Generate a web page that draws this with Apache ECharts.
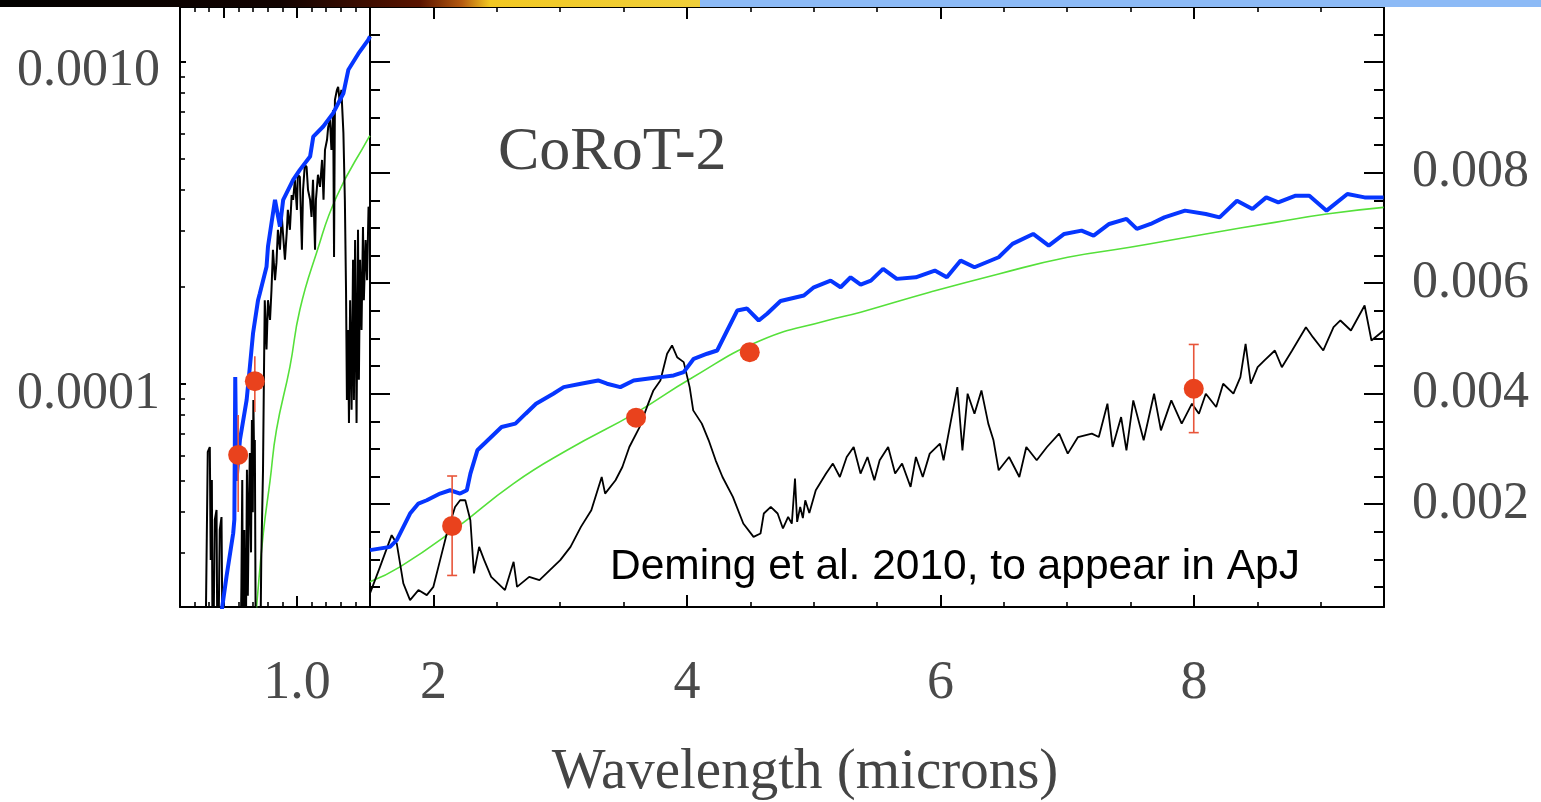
<!DOCTYPE html>
<html>
<head>
<meta charset="utf-8">
<title>CoRoT-2</title>
<script src="https://cdn.jsdelivr.net/npm/echarts@6/dist/echarts.min.js"></script>
<style>
  html, body { margin: 0; padding: 0; background: #fff; }
  #main { width: 1541px; height: 802px; }
</style>
</head>
<body>
<div id="main"></div>
<script>
// ---- values (wavelength in microns) ----

// left panel: optical, log scale
var optBlack = [[0.685,1e-5],[0.695,6.15e-5],[0.702,6.37e-5],[0.705,2.84e-5],[0.709,5.03e-5],[0.712,1e-5],[0.719,3.78e-5],[0.725,4.06e-5],[0.729,1e-5],[0.736,3.52e-5],[0.742,3.86e-5],[0.747,1e-5],
  [0.805,1e-5],[0.810,2.34e-5],[0.813,5.03e-5],[0.816,1e-5],[0.820,3.52e-5],[0.824,1e-5],[0.829,5.41e-5],[0.832,2.2e-5],[0.836,4.36e-5],[0.839,6.10e-5],[0.843,3.0e-5],[0.846,7.73e-5],[0.849,4.0e-5],[0.851,8.92e-5],[0.854,5.5e-5],[0.856,6.70e-5],[0.860,1e-5],
  [0.873,1e-5],[0.878,2.84e-5],[0.884,5.41e-5],[0.887,1.03e-4],[0.890,1.82e-4],[0.896,1.28e-4],[0.901,1.82e-4],[0.908,1.58e-4],[0.913,1.96e-4],[0.918,2.61e-4],[0.925,2.10e-4],[0.930,2.38e-4],[0.935,3.01e-4],[0.942,2.61e-4],[0.948,3.32e-4],[0.953,3.30e-4],[0.959,2.43e-4],[0.965,2.94e-4],[0.969,3.47e-4],[0.976,3.01e-4],[0.982,3.86e-4],[0.987,3.73e-4],[0.993,4.30e-4],[1.000,3.47e-4],[1.003,4.46e-4],[1.010,4.39e-4],[1.017,2.61e-4],[1.021,4.00e-4],[1.027,4.79e-4],[1.033,4.72e-4],[1.038,4.00e-4],[1.045,3.73e-4],[1.050,3.30e-4],[1.055,4.30e-4],[1.062,2.61e-4],[1.065,3.73e-4],[1.072,4.46e-4],[1.079,4.09e-4],[1.086,4.96e-4],[1.091,3.73e-4],[1.096,5.33e-4],[1.103,5.73e-4],[1.107,6.28e-4],[1.113,6.61e-4],[1.118,5.33e-4],[1.124,7.09e-4],[1.127,2.48e-4],[1.130,7.62e-4],[1.137,8.19e-4],[1.141,8.36e-4],[1.147,7.46e-4],[1.152,8.19e-4],[1.159,6.02e-4],[1.164,3.73e-4],[1.168,1.96e-4],[1.171,8.92e-5],[1.175,1.47e-4],[1.178,7.57e-5],[1.182,1.82e-4],[1.187,8.31e-5],[1.192,2.43e-4],[1.195,8.92e-5],[1.199,2.80e-4],[1.204,7.57e-5],[1.209,3.01e-4],[1.212,1.03e-4],[1.216,2.43e-4],[1.221,1.47e-4],[1.226,3.07e-4],[1.229,1.82e-4],[1.235,2.80e-4],[1.240,2.10e-4],[1.245,3.55e-4],[1.250,3.35e-4]];
var optBlue = [[0.740,1.9e-5],[0.759,2.52e-5],[0.782,3.44e-5],[0.786,3.8e-5],[0.789,1.05e-4],[0.793,5.0e-5],[0.799,5.03e-5],[0.805,6.70e-5],[0.828,8.92e-5],[0.839,1.13e-4],[0.850,1.44e-4],[0.867,1.82e-4],[0.873,1.91e-4],[0.896,2.31e-4],[0.901,2.67e-4],[0.925,3.73e-4],[0.942,3.08e-4],[0.953,3.73e-4],[0.987,4.30e-4],[1.010,4.62e-4],[1.045,5.08e-4],[1.056,5.86e-4],[1.090,6.30e-4],[1.124,6.93e-4],[1.159,7.99e-4],[1.176,9.45e-4],[1.210,1.06e-3],[1.244,1.17e-3],[1.250,1.20e-3]];
var optGreen = [[0.858,1.85e-5],[0.862,2.04e-5],[0.885,3.44e-5],[0.908,5.0e-5],[0.930,7.20e-5],[0.976,1.13e-4],[1.010,1.70e-4],[1.067,2.55e-4],[1.136,3.82e-4],[1.244,5.79e-4],[1.250,5.90e-4]];
var optPoints = [[0.799,6.02e-5],[0.856,1.02e-4]];
var optErrors = [[0.799,4.00e-5,8.01e-5],[0.856,8.18e-5,1.22e-4]];

// right panel: infrared, linear scale
var irBlack = [[1.500,0.000386],[1.579,0.000867],[1.671,0.001440],[1.711,0.001290],[1.763,0.000567],[1.816,0.000265],[1.882,0.000446],[1.948,0.000355],[2.000,0.000505],[2.053,0.000988],[2.106,0.001470],[2.171,0.001951],[2.211,0.002072],[2.252,0.002072],[2.292,0.001711],[2.320,0.000748],[2.361,0.001228],[2.401,0.000988],[2.456,0.000686],[2.510,0.000567],[2.565,0.000446],[2.633,0.000957],[2.660,0.000505],[2.756,0.000686],[2.837,0.000626],[2.919,0.000807],[3.001,0.000988],[3.082,0.001228],[3.164,0.001590],[3.246,0.001892],[3.328,0.002493],[3.355,0.002193],[3.437,0.002434],[3.491,0.002674],[3.546,0.003036],[3.627,0.003397],[3.695,0.003820],[3.736,0.004060],[3.791,0.004241],[3.844,0.004724],[3.883,0.004874],[3.923,0.004662],[3.975,0.004572],[4.022,0.004120],[4.050,0.003699],[4.118,0.003459],[4.172,0.003157],[4.227,0.002795],[4.281,0.002493],[4.363,0.002132],[4.445,0.001651],[4.526,0.001409],[4.581,0.001470],[4.607,0.001832],[4.662,0.001951],[4.716,0.001832],[4.758,0.001561],[4.799,0.001770],[4.828,0.001650],[4.853,0.002464],[4.870,0.001680],[4.894,0.001951],[4.915,0.001750],[4.934,0.002072],[4.966,0.001840],[5.017,0.002253],[5.098,0.002555],[5.152,0.002736],[5.207,0.002493],[5.261,0.002855],[5.316,0.003036],[5.370,0.002555],[5.425,0.002855],[5.479,0.002434],[5.521,0.002795],[5.588,0.003036],[5.643,0.002555],[5.698,0.002736],[5.765,0.002313],[5.807,0.002855],[5.861,0.002493],[5.916,0.002916],[5.997,0.003097],[6.025,0.002795],[6.079,0.003459],[6.134,0.004120],[6.174,0.002976],[6.215,0.004001],[6.269,0.003639],[6.324,0.004060],[6.378,0.003459],[6.419,0.003157],[6.460,0.002614],[6.542,0.002855],[6.623,0.002493],[6.678,0.003036],[6.760,0.002795],[6.841,0.003036],[6.937,0.003278],[7.005,0.002916],[7.086,0.003216],[7.195,0.003278],[7.250,0.003216],[7.318,0.003820],[7.359,0.003036],[7.426,0.003578],[7.468,0.002976],[7.522,0.003880],[7.604,0.003157],[7.686,0.004001],[7.740,0.003337],[7.822,0.003880],[7.904,0.003459],[7.985,0.003820],[8.040,0.003639],[8.094,0.004001],[8.176,0.003759],[8.231,0.004181],[8.312,0.004001],[8.367,0.004301],[8.408,0.004904],[8.449,0.004181],[8.503,0.004481],[8.557,0.004603],[8.639,0.004783],[8.694,0.004481],[8.775,0.004783],[8.884,0.005204],[8.939,0.005024],[9.021,0.004783],[9.102,0.005204],[9.156,0.005326],[9.239,0.005145],[9.347,0.005597],[9.401,0.004964],[9.497,0.005145]];
var irBlue = [[1.500,0.001169],[1.658,0.001228],[1.711,0.001349],[1.816,0.001832],[1.882,0.002013],[1.948,0.002072],[2.053,0.002193],[2.132,0.002253],[2.211,0.002193],[2.264,0.002253],[2.292,0.002555],[2.347,0.002976],[2.456,0.003216],[2.538,0.003397],[2.647,0.003459],[2.728,0.003639],[2.810,0.003820],[2.946,0.004001],[3.028,0.004120],[3.164,0.004181],[3.300,0.004241],[3.370,0.004181],[3.475,0.004120],[3.580,0.004241],[3.686,0.004272],[3.791,0.004301],[3.896,0.004331],[3.975,0.004391],[4.054,0.004633],[4.160,0.004724],[4.239,0.004783],[4.318,0.005145],[4.397,0.005506],[4.475,0.005542],[4.567,0.005326],[4.633,0.005447],[4.739,0.005678],[4.923,0.005777],[5.002,0.005927],[5.134,0.006048],[5.213,0.005927],[5.292,0.006108],[5.371,0.005976],[5.452,0.006048],[5.548,0.006260],[5.656,0.006079],[5.806,0.006108],[5.956,0.006229],[6.051,0.006108],[6.160,0.006410],[6.269,0.006289],[6.460,0.006470],[6.569,0.006712],[6.732,0.006892],[6.855,0.006681],[6.977,0.006892],[7.114,0.006952],[7.209,0.006862],[7.332,0.007073],[7.468,0.007164],[7.550,0.006983],[7.659,0.007073],[7.767,0.007193],[7.930,0.007314],[8.094,0.007254],[8.203,0.007193],[8.340,0.007494],[8.462,0.007344],[8.571,0.007554],[8.666,0.007464],[8.803,0.007585],[8.911,0.007585],[9.047,0.007314],[9.211,0.007615],[9.347,0.007554],[9.497,0.007554]];
var irGreen = [[1.500,0.000596],[1.737,0.000867],[2.158,0.001530],[2.632,0.002374],[3.054,0.002976],[3.607,0.003668],[4.028,0.004272],[4.581,0.004964],[5.107,0.005326],[5.371,0.005476],[5.916,0.005837],[6.460,0.006169],[7.005,0.006470],[7.496,0.006650],[8.094,0.006892],[8.639,0.007102],[9.047,0.007254],[9.497,0.007373]];
var irPoints = [[2.148,0.001608],[3.599,0.003567],[4.496,0.004753],[7.999,0.004091]];
var irErrors = [[2.148,0.000711,0.002511],[3.599,0.003500,0.003630],[4.496,0.004690,0.004815],[7.999,0.003296,0.004892]];

// ticks and labels
var optXMajor = [0.75, 1.0];
var optXLabels = [1.0];
var optYMinor = [3e-5,4e-5,5e-5,6e-5,7e-5,8e-5,9e-5,2e-4,3e-4,4e-4,5e-4,6e-4,7e-4,8e-4,9e-4];
var irXMajor = [2, 4, 6, 8];
var irYMinor = [0.0005,0.001,0.0015,0.002,0.0025,0.003,0.0035,0.004,0.0045,0.005,0.0055,0.006,0.0065,0.007,0.0075,0.008,0.0085,0.009,0.0095,0.01,0.0105];
var irYMajor = [0.002, 0.004, 0.006, 0.008, 0.010];
var irYLabels = [0.002, 0.004, 0.006, 0.008];

var chartDom = document.getElementById('main');
var myChart = echarts.init(chartDom);

var serif = '"Liberation Serif", "Times New Roman", serif';
var labelGrey = '#4a4a4a';
var red = '#e9421d';

function errorBars(cap) {
  return function (params, api) {
    var x = api.value(0);
    var lo = api.coord([x, api.value(1)]);
    var hi = api.coord([x, api.value(2)]);
    var style = { stroke: '#e8553a', lineWidth: 1.6 };
    var kids = [{ type: 'line', shape: { x1: lo[0], y1: lo[1], x2: hi[0], y2: hi[1] }, style: style }];
    if (cap) {
      kids.push({ type: 'line', shape: { x1: lo[0] - cap, y1: lo[1], x2: lo[0] + cap, y2: lo[1] }, style: style });
      kids.push({ type: 'line', shape: { x1: hi[0] - cap, y1: hi[1], x2: hi[0] + cap, y2: hi[1] }, style: style });
    }
    return { type: 'group', children: kids };
  };
}

function frameAxis(extra) {
  var a = {
    axisLine: { show: true, onZero: false, lineStyle: { color: '#000', width: 2 } },
    axisTick: { show: true, inside: true, length: 5, lineStyle: { color: '#000', width: 1.6 } },
    axisLabel: { show: false },
    splitLine: { show: false },
    minorTick: { show: false }
  };
  return Object.assign(a, extra);
}
function tickAxis(extra) {
  var a = {
    axisLine: { show: false, onZero: false },
    axisLabel: { show: false },
    splitLine: { show: false }
  };
  return Object.assign(a, extra);
}

var gridL = { left: 180, top: 7, width: 190, height: 600, containLabel: false, outerBoundsMode: 'none' };
var gridR = { left: 370, top: 7, width: 1014, height: 600, containLabel: false, outerBoundsMode: 'none' };

var option = {
  animation: false,
  backgroundColor: '#fff',
  grid: [gridL, Object.assign({}, gridL), gridR, Object.assign({}, gridR)],
  xAxis: [
    frameAxis({ gridIndex: 0, type: 'value', position: 'bottom', min: 0.6, max: 1.25, interval: 0.05 }),
    frameAxis({ gridIndex: 0, type: 'value', position: 'top', min: 0.6, max: 1.25, interval: 0.05 }),
    tickAxis({ gridIndex: 1, type: 'value', position: 'bottom', min: 0.6, max: 1.25,
      axisTick: { show: true, inside: true, length: 11, customValues: optXMajor, lineStyle: { color: '#000', width: 2 } },
      axisLabel: { show: true, customValues: optXLabels, margin: 50, color: labelGrey, fontFamily: serif, fontSize: 54,
        formatter: function (v) { return v.toFixed(1); } } }),
    tickAxis({ gridIndex: 1, type: 'value', position: 'top', min: 0.6, max: 1.25,
      axisTick: { show: true, inside: true, length: 11, customValues: optXMajor, lineStyle: { color: '#000', width: 2 } } }),
    frameAxis({ gridIndex: 2, type: 'value', position: 'bottom', min: 1.5, max: 9.5, interval: 0.5 }),
    frameAxis({ gridIndex: 2, type: 'value', position: 'top', min: 1.5, max: 9.5, interval: 0.5 }),
    tickAxis({ gridIndex: 3, type: 'value', position: 'bottom', min: 1.5, max: 9.5,
      axisTick: { show: true, inside: true, length: 12, customValues: irXMajor, lineStyle: { color: '#000', width: 2 } },
      axisLabel: { show: true, customValues: irXMajor, margin: 50, color: labelGrey, fontFamily: serif, fontSize: 54,
        formatter: function (v) { return String(v); } } }),
    tickAxis({ gridIndex: 3, type: 'value', position: 'top', min: 1.5, max: 9.5,
      axisTick: { show: true, inside: true, length: 12, customValues: irXMajor, lineStyle: { color: '#000', width: 2 } } })
  ],
  yAxis: [
    frameAxis({ gridIndex: 0, type: 'log', logBase: 10, position: 'left', min: 2.03e-5, max: 1.48e-3,
      axisTick: { show: true, inside: true, length: 5, customValues: optYMinor, lineStyle: { color: '#000', width: 1.6 } } }),
    tickAxis({ gridIndex: 1, type: 'log', logBase: 10, position: 'left', min: 2.03e-5, max: 1.48e-3,
      axisTick: { show: true, inside: true, length: 6, lineStyle: { color: '#000', width: 2 } },
      axisLabel: { show: true, showMinLabel: false, showMaxLabel: false, margin: 20,
        formatter: function (v) { return '{a|' + Number(v).toFixed(4) + '}'; },
        rich: { a: { color: labelGrey, fontFamily: serif, fontSize: 52, padding: [20, 0, 0, 0] } } } }),
    frameAxis({ gridIndex: 2, type: 'value', position: 'left', min: 0.00014, max: 0.011,
      axisTick: { show: true, inside: true, length: 10, customValues: irYMinor, lineStyle: { color: '#000', width: 2 } } }),
    frameAxis({ gridIndex: 2, type: 'value', position: 'right', min: 0.00014, max: 0.011,
      axisTick: { show: true, inside: true, length: 10, customValues: irYMinor, lineStyle: { color: '#000', width: 2 } } }),
    tickAxis({ gridIndex: 3, type: 'value', position: 'left', min: 0.00014, max: 0.011,
      axisTick: { show: true, inside: true, length: 20, customValues: irYMajor, lineStyle: { color: '#000', width: 2 } } }),
    tickAxis({ gridIndex: 3, type: 'value', position: 'right', min: 0.00014, max: 0.011,
      axisTick: { show: true, inside: true, length: 20, customValues: irYMajor, lineStyle: { color: '#000', width: 2 } },
      axisLabel: { show: true, customValues: irYLabels, margin: 28, color: labelGrey, fontFamily: serif, fontSize: 52,
        formatter: function (v) { return v.toFixed(3); } } })
  ],
  series: [
    // optical panel
    { type: 'line', xAxisIndex: 0, yAxisIndex: 0, data: optGreen, smooth: true, symbol: 'none',
      lineStyle: { color: '#55e03a', width: 1.6 }, z: 2 },
    { type: 'line', xAxisIndex: 0, yAxisIndex: 0, data: optBlack, symbol: 'none',
      lineStyle: { color: '#000', width: 2 }, z: 3 },
    { type: 'line', xAxisIndex: 0, yAxisIndex: 0, data: optBlue, symbol: 'none',
      lineStyle: { color: '#0636ff', width: 4 }, z: 4 },
    { type: 'custom', xAxisIndex: 0, yAxisIndex: 0, data: optErrors, renderItem: errorBars(0),
      encode: { x: 0, y: [1, 2] }, z: 5 },
    { type: 'scatter', xAxisIndex: 0, yAxisIndex: 0, data: optPoints, symbol: 'circle', symbolSize: 20,
      itemStyle: { color: red, opacity: 1 }, z: 6 },
    // infrared panel
    { type: 'line', xAxisIndex: 4, yAxisIndex: 2, data: irGreen, smooth: true, symbol: 'none',
      lineStyle: { color: '#55e03a', width: 1.6 }, z: 2 },
    { type: 'line', xAxisIndex: 4, yAxisIndex: 2, data: irBlack, symbol: 'none',
      lineStyle: { color: '#000', width: 1.8 }, z: 3 },
    { type: 'line', xAxisIndex: 4, yAxisIndex: 2, data: irBlue, symbol: 'none',
      lineStyle: { color: '#0636ff', width: 4 }, z: 4 },
    { type: 'custom', xAxisIndex: 4, yAxisIndex: 2, data: irErrors, renderItem: errorBars(5),
      encode: { x: 0, y: [1, 2] }, z: 5 },
    { type: 'scatter', xAxisIndex: 4, yAxisIndex: 2, data: irPoints, symbol: 'circle', symbolSize: 20,
      itemStyle: { color: red, opacity: 1 }, z: 6 }
  ],
  graphic: [
    { type: 'rect', z: 100, shape: { x: 0, y: 0, width: 700, height: 7 },
      style: { fill: new echarts.graphic.LinearGradient(0, 0, 1, 0, [
        { offset: 0, color: '#020100' }, { offset: 0.4, color: '#120300' },
        { offset: 0.6, color: '#5a1400' }, { offset: 0.66, color: '#b55a10' },
        { offset: 0.7, color: '#f2c822' }, { offset: 1, color: '#efcf3a' }]) } },
    { type: 'rect', z: 100, shape: { x: 700, y: 0, width: 841, height: 7 }, style: { fill: '#8cbaf6' } },
    { type: 'text', z: 50, x: 498, y: 153,
      style: { text: 'CoRoT-2', font: '62px ' + serif, fill: '#444', align: 'left', verticalAlign: 'middle' } },
    { type: 'text', z: 50, x: 610, y: 567,
      style: { text: 'Deming et al. 2010, to appear in ApJ', font: '42.5px "Liberation Sans", Arial, sans-serif', fill: '#000', align: 'left', verticalAlign: 'middle' } },
    { type: 'text', z: 50, x: 805, y: 773,
      style: { text: 'Wavelength (microns)', font: '57px ' + serif, fill: '#444', align: 'center', verticalAlign: 'middle' } }
  ]
};

option && myChart.setOption(option);
window.addEventListener('resize', function () {
  myChart.resize();
});
</script>
</body>
</html>
